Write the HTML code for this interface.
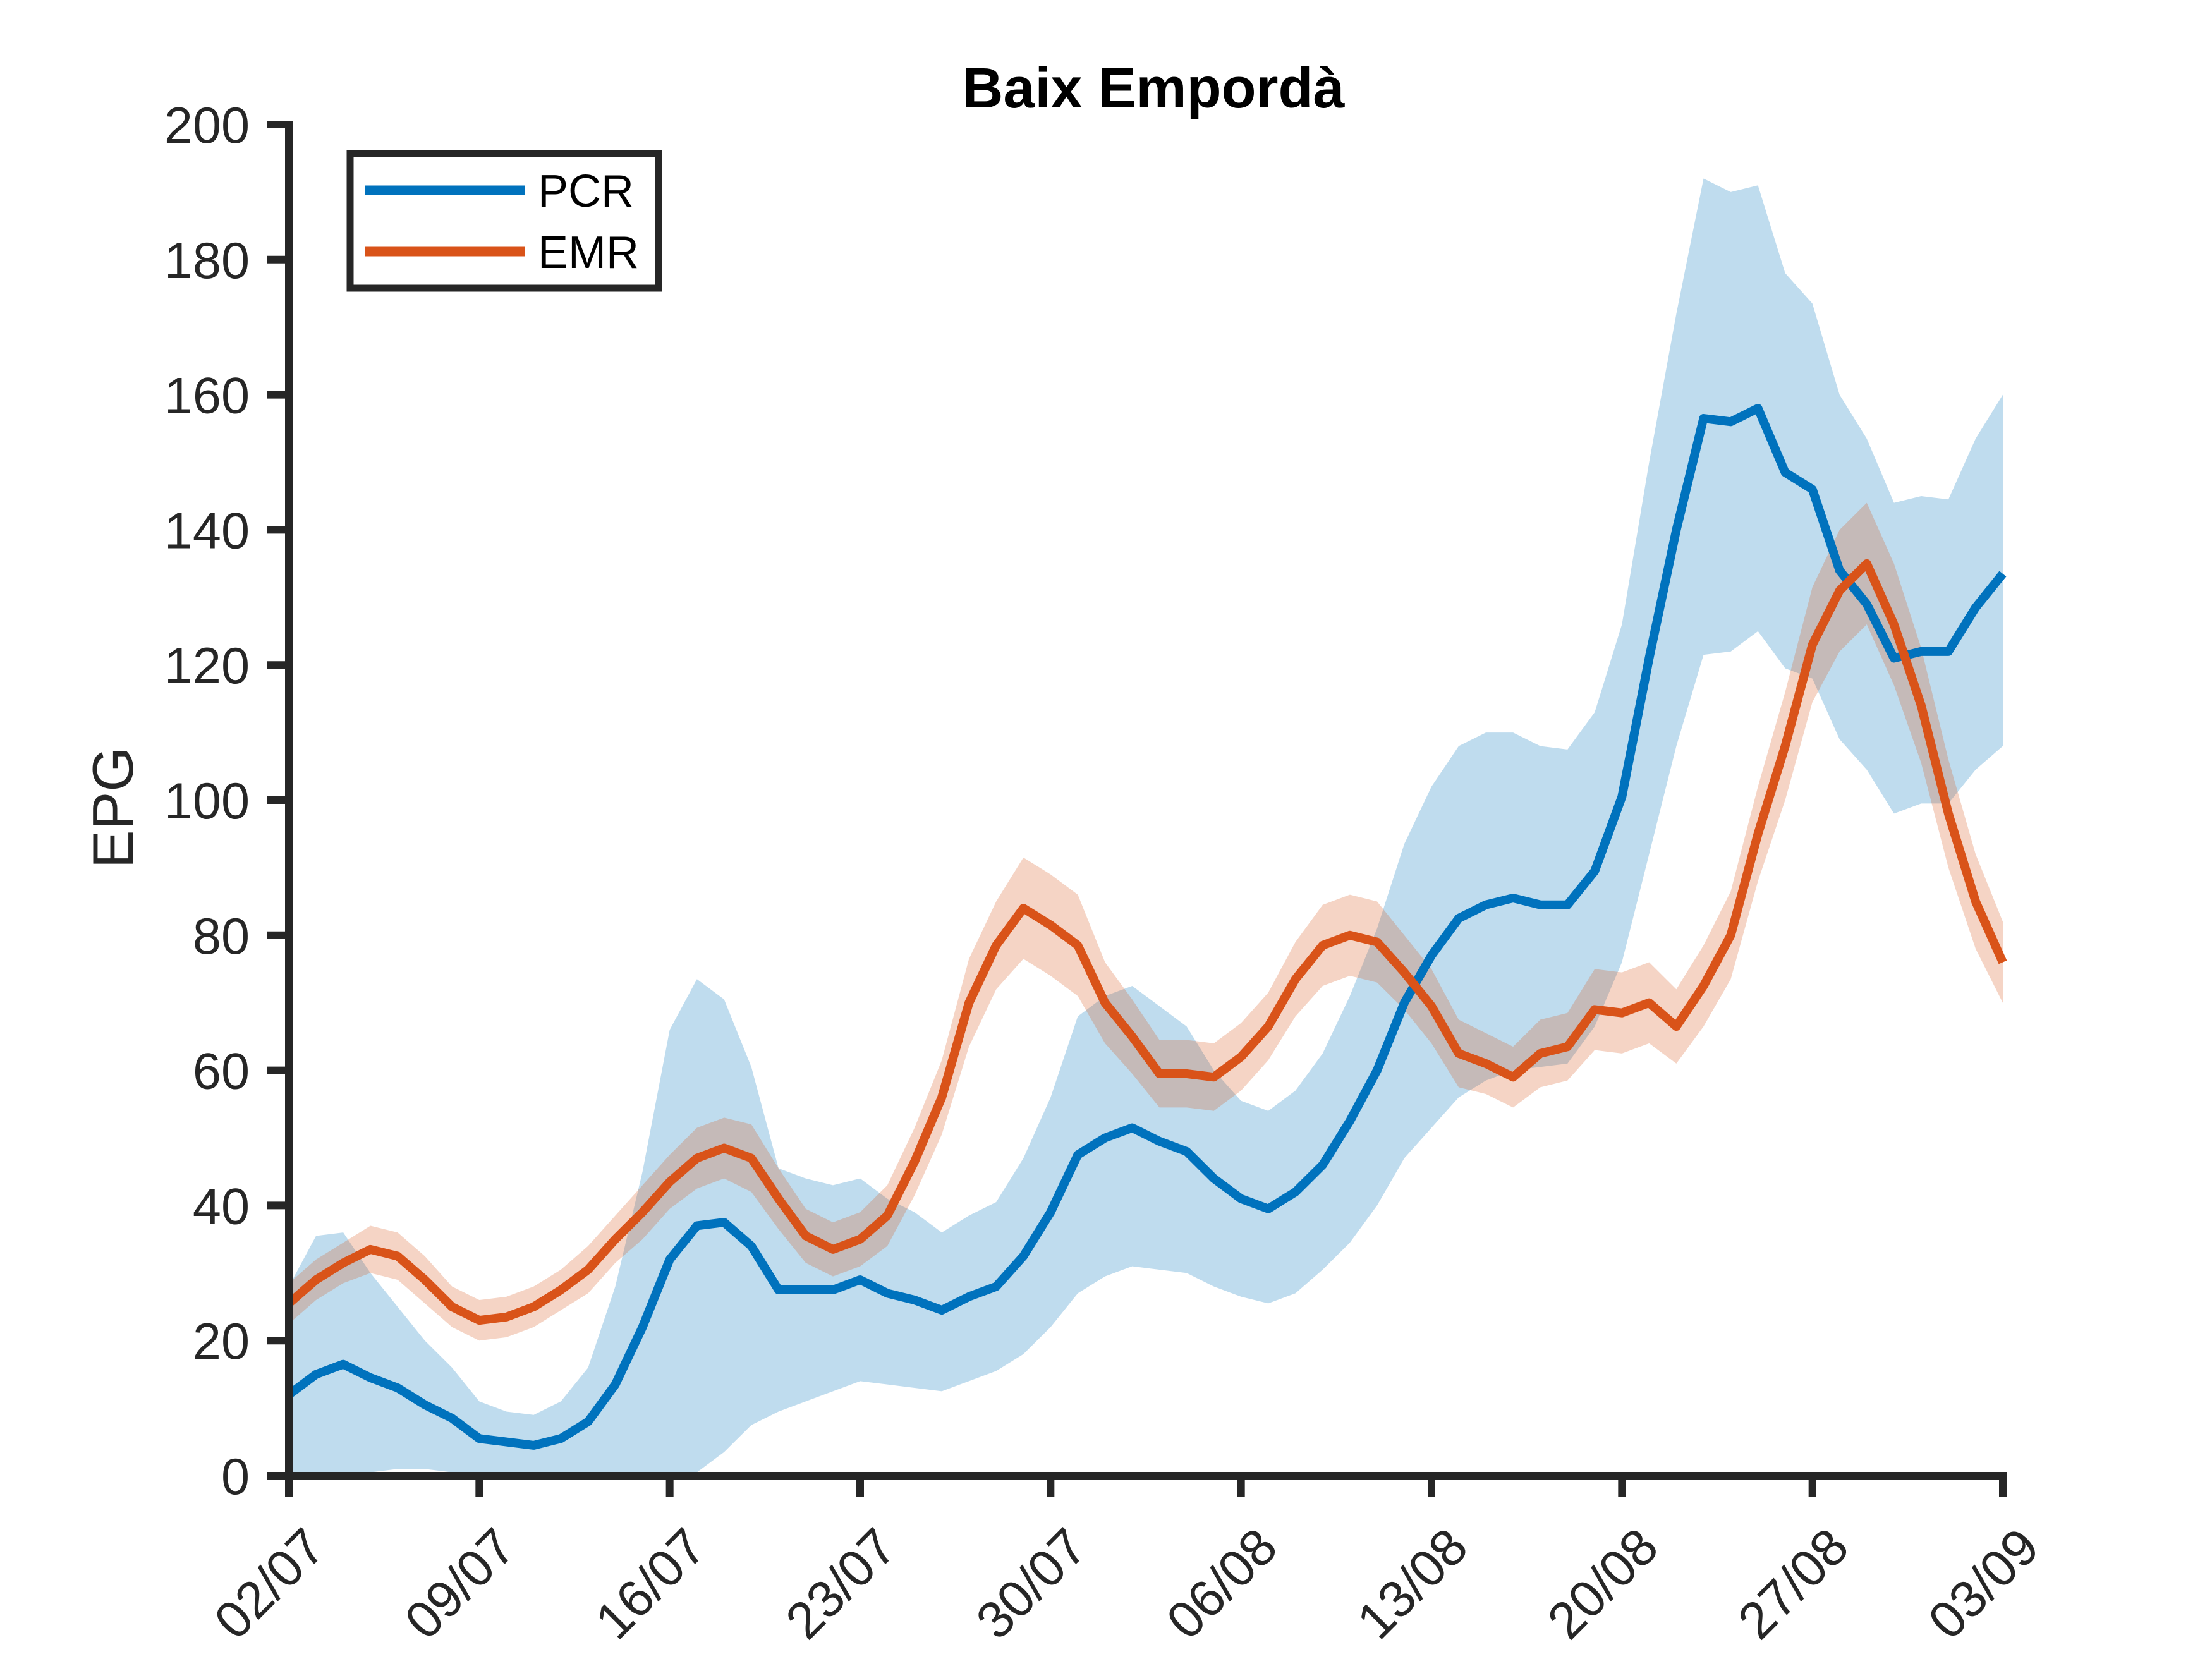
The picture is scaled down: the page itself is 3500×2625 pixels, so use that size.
<!DOCTYPE html>
<html><head><meta charset="utf-8"><style>
html,body{margin:0;padding:0;background:#fff;}
svg{display:block;font-family:"Liberation Sans",Arial,sans-serif;}
</style></head><body>
<svg id="chart" width="3500" height="2625" viewBox="0 0 3500 2625" xmlns="http://www.w3.org/2000/svg">
<rect width="3500" height="2625" fill="#fff"/>
<g id="bands"></g>
<g id="lines"></g>
<g id="axes"></g>
<text x="1825" y="170" font-size="90" font-weight="bold" text-anchor="middle" fill="#000">Baix Empordà</text>
<text transform="translate(210,1278) rotate(-90)" font-size="91" text-anchor="middle" fill="#262626">EPG</text>
<g>
<rect x="554" y="243" width="488" height="213" fill="#fff" stroke="#262626" stroke-width="11"/>
<line x1="578" y1="301" x2="831" y2="301" stroke="#0072BD" stroke-width="15"/>
<text x="851" y="327" font-size="72" fill="#000">PCR</text>
<line x1="578" y1="398" x2="831" y2="398" stroke="#D95319" stroke-width="15"/>
<text x="851" y="424" font-size="72" fill="#000">EMR</text>
</g>
</svg>
<script>
const xTickLabels=["02/07","09/07","16/07","23/07","30/07","06/08","13/08","20/08","27/08","03/09"];
const yTicks=[0,20,40,60,80,100,120,140,160,180,200];
const pcr=[12,15,16.5,14.5,13,10.5,8.5,5.5,5,4.5,5.5,8,13.5,22,32,37,37.5,34,27.5,27.5,27.5,29,27,26,24.5,26.5,28,32.5,39,47.5,50,51.5,49.5,48,44,41,39.5,42,46,52.5,60,70,77,82.5,84.5,85.5,84.5,84.5,89.5,100.5,121,140,156.5,156,158,148.5,146,134,129,121,122,122,128.5,133.5];
const pcrHi=[28,35.5,36,30,25,20,16,11,9.5,9,11,16,28,45,66,73.5,70.5,60.5,45.5,44,43,44,41,39,36,38.5,40.5,47,56,68,71,72.5,69.5,66.5,60,55.5,54,57,62.5,71,81,93.5,102,108,110,110,108,107.5,113,126,150,172,192,190,191,178,173.5,160,153.5,144,145,144.5,153.5,160];
const pcrLo=[0,0,0,0.5,1,1,0.5,0,0,0,0,0,0,0,0,0.5,3.5,7.5,9.5,11,12.5,14,13.5,13,12.5,14,15.5,18,22,27,29.5,31,30.5,30,28,26.5,25.5,27,30.5,34.5,40,47,51.5,56,58.5,60,60.5,61,66.5,76,92,108,121.5,122,125,119.5,118,109,104.5,98,99.5,99.5,104.5,108];
const emr=[25.5,29,31.5,33.5,32.5,29,25,23,23.5,25,27.5,30.5,35,39,43.5,47,48.5,47,41,35.5,33.5,35,38.5,46.5,56,70,78.5,84,81.5,78.5,70,65,59.5,59.5,59,62,66.5,73.5,78.5,80,79,74.5,69.5,62.5,61,59,62.5,63.5,69,68.5,70,66.5,72.5,80,95,108,123,131,135,126,114,98,85,76];
const emrHi=[28.5,32,34.5,37,36,32.5,28,26,26.5,28,30.5,34,38.5,43,47.5,51.5,53,52,45.5,39.5,37.5,39,43,51.5,61.5,76.5,85,91.5,89,86,76,70.5,64.5,64.5,64,67,71.5,79,84.5,86,85,80,75,67.5,65.5,63.5,67.5,68.5,75,74.5,76,72,78.5,86.5,102,116,131.5,140,144,135,122.5,106,92,82];
const emrLo=[22.5,26,28.5,30,29,25.5,22,20,20.5,22,24.5,27,31.5,35,39.5,42.5,44,42,36.5,31.5,29.5,31,34,41.5,50.5,63.5,72,76.5,74,71,64,59.5,54.5,54.5,54,57,61.5,68,72.5,74,73,69,64,57.5,56.5,54.5,57.5,58.5,63,62.5,64,61,66.5,73.5,88,100,114.5,122,126,117,105.5,90,78,70];

const NS="http://www.w3.org/2000/svg";
const X0=457,X1=3169,Y0=2335,Y1=197,NDAYS=63;
function xs(d){return X0+(X1-X0)*d/NDAYS;}
function ys(v){return Y0-(Y0-Y1)*v/200;}
function mk(tag,attrs,parent){const e=document.createElementNS(NS,tag);for(const k in attrs)e.setAttribute(k,attrs[k]);parent.appendChild(e);return e;}
const bands=document.getElementById('bands'),lines=document.getElementById('lines'),axes=document.getElementById('axes');
function band(hi,lo,fill,name){
  let d="M"+hi.map((v,i)=>xs(i)+","+ys(v)).join(" L");
  d+=" L"+lo.map((v,i)=>xs(i)+","+ys(v)).reverse().join(" L")+" Z";
  const p=mk('path',{d:d,fill:fill,stroke:'none'},bands);
  
  
}
function line(arr,col,name){
  const d="M"+arr.map((v,i)=>xs(i)+","+ys(v)).join(" L");
  const p=mk('path',{d:d,fill:'none',stroke:col,'stroke-width':14,'stroke-linejoin':'round'},lines);
  
  
}
band(pcrHi,pcrLo,'rgba(0,114,189,0.25)','pcr-band');
band(emrHi,emrLo,'rgba(217,83,25,0.25)','emr-band');
line(pcr,'#0072BD','pcr-line');
line(emr,'#D95319','emr-line');
const ax=mk('path',{d:`M${X0},${Y1} L${X0},${Y0} L${X1},${Y0}`,fill:'none',stroke:'#262626','stroke-width':12,'stroke-linecap':'square'},axes);


yTicks.forEach(v=>{
  const t=mk('line',{x1:X0-34,y1:ys(v),x2:X0,y2:ys(v),stroke:'#262626','stroke-width':12},axes);
  
  
  const l=mk('text',{x:X0-62,y:ys(v)+29,'font-size':81,'text-anchor':'end',fill:'#262626'},axes);
  l.textContent=v;
  
  
});
xTickLabels.forEach((s,i)=>{
  const x=xs(i*7);
  const t=mk('line',{x1:x,y1:Y0,x2:x,y2:Y0+34,stroke:'#262626','stroke-width':12},axes);
  
  
  const l=mk('text',{transform:`translate(${x+62},${Y0+118}) rotate(-45)`,'font-size':82,'text-anchor':'end',fill:'#262626'},axes);
  l.textContent=s;
  
  
});
</script>
</body></html>
